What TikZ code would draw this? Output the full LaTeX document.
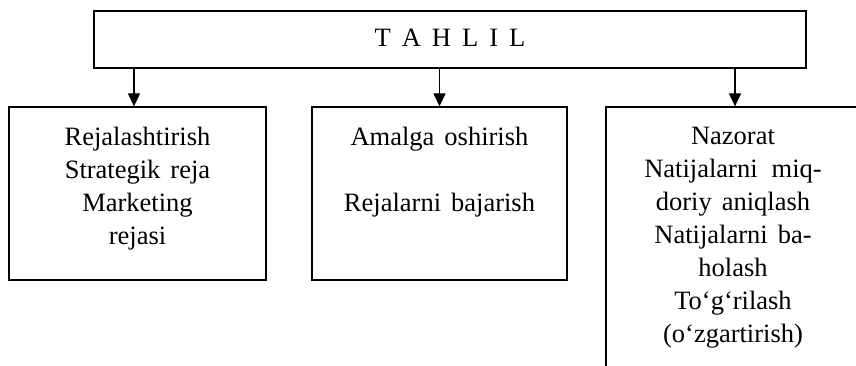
\documentclass[tikz,border=0pt]{standalone}
\usepackage{fontspec}
\setmainfont{Liberation Serif}
\usetikzlibrary{arrows.meta}
\begin{document}
\begin{tikzpicture}[x=1pt,y=-1pt,
  frame/.style={draw,line width=1.3pt,inner sep=0pt},
  txt/.style={inner sep=0pt,align=center,
    font={\fontsize{26.5}{33}\selectfont\spaceskip=10pt\relax}},
  link/.style={line width=1.3pt,-{Triangle[length=13pt,width=12pt]}}]
\useasboundingbox (0,0) rectangle (856,366);
\clip (0,0) rectangle (856,366);
% top stage
\node[frame,minimum width=712pt,minimum height=57pt] (top) at (450,39.5) {};
\node[txt,anchor=base,font={\fontsize{26.5}{33}\selectfont\spaceskip=11pt\relax}]
  (toptext) at (450,47) {T A H L I L};
% three sub-stages
\node[frame,minimum width=257pt,minimum height=173pt] (plan) at (137.5,193.5) {};
\node[frame,minimum width=255pt,minimum height=173pt] (act) at (439.5,193.5) {};
\node[frame,minimum width=254pt,minimum height=300pt] (ctrl) at (733,257) {};
% texts
\node[txt,anchor=north] (plantext) at (137.5,126.5)
  {Rejalashtirish\\Strategik reja\\Marketing\\rejasi};
\node[txt,anchor=north] (acttext) at (439.5,126.5)
  {Amalga oshirish\\[33pt]Rejalarni bajarish};
\node[txt,anchor=north] (ctrltext) at (733,126.5)
  {Nazorat\\Natijalarni\hspace{14pt}miq-\\doriy aniqlash\\Natijalarni ba-\\holash\\To‘g‘rilash\\(o‘zgartirish)};
% arrows
\draw[link] (top.south -| plan.north) ++(-3.5,0) coordinate (a1) -- (a1 |- plan.north);
\draw[link] (top.south -| act.north) -- (act.north);
\draw[link] (top.south -| ctrl.north) ++(2,0) coordinate (a3) -- (a3 |- ctrl.north);
\end{tikzpicture}
\end{document}
